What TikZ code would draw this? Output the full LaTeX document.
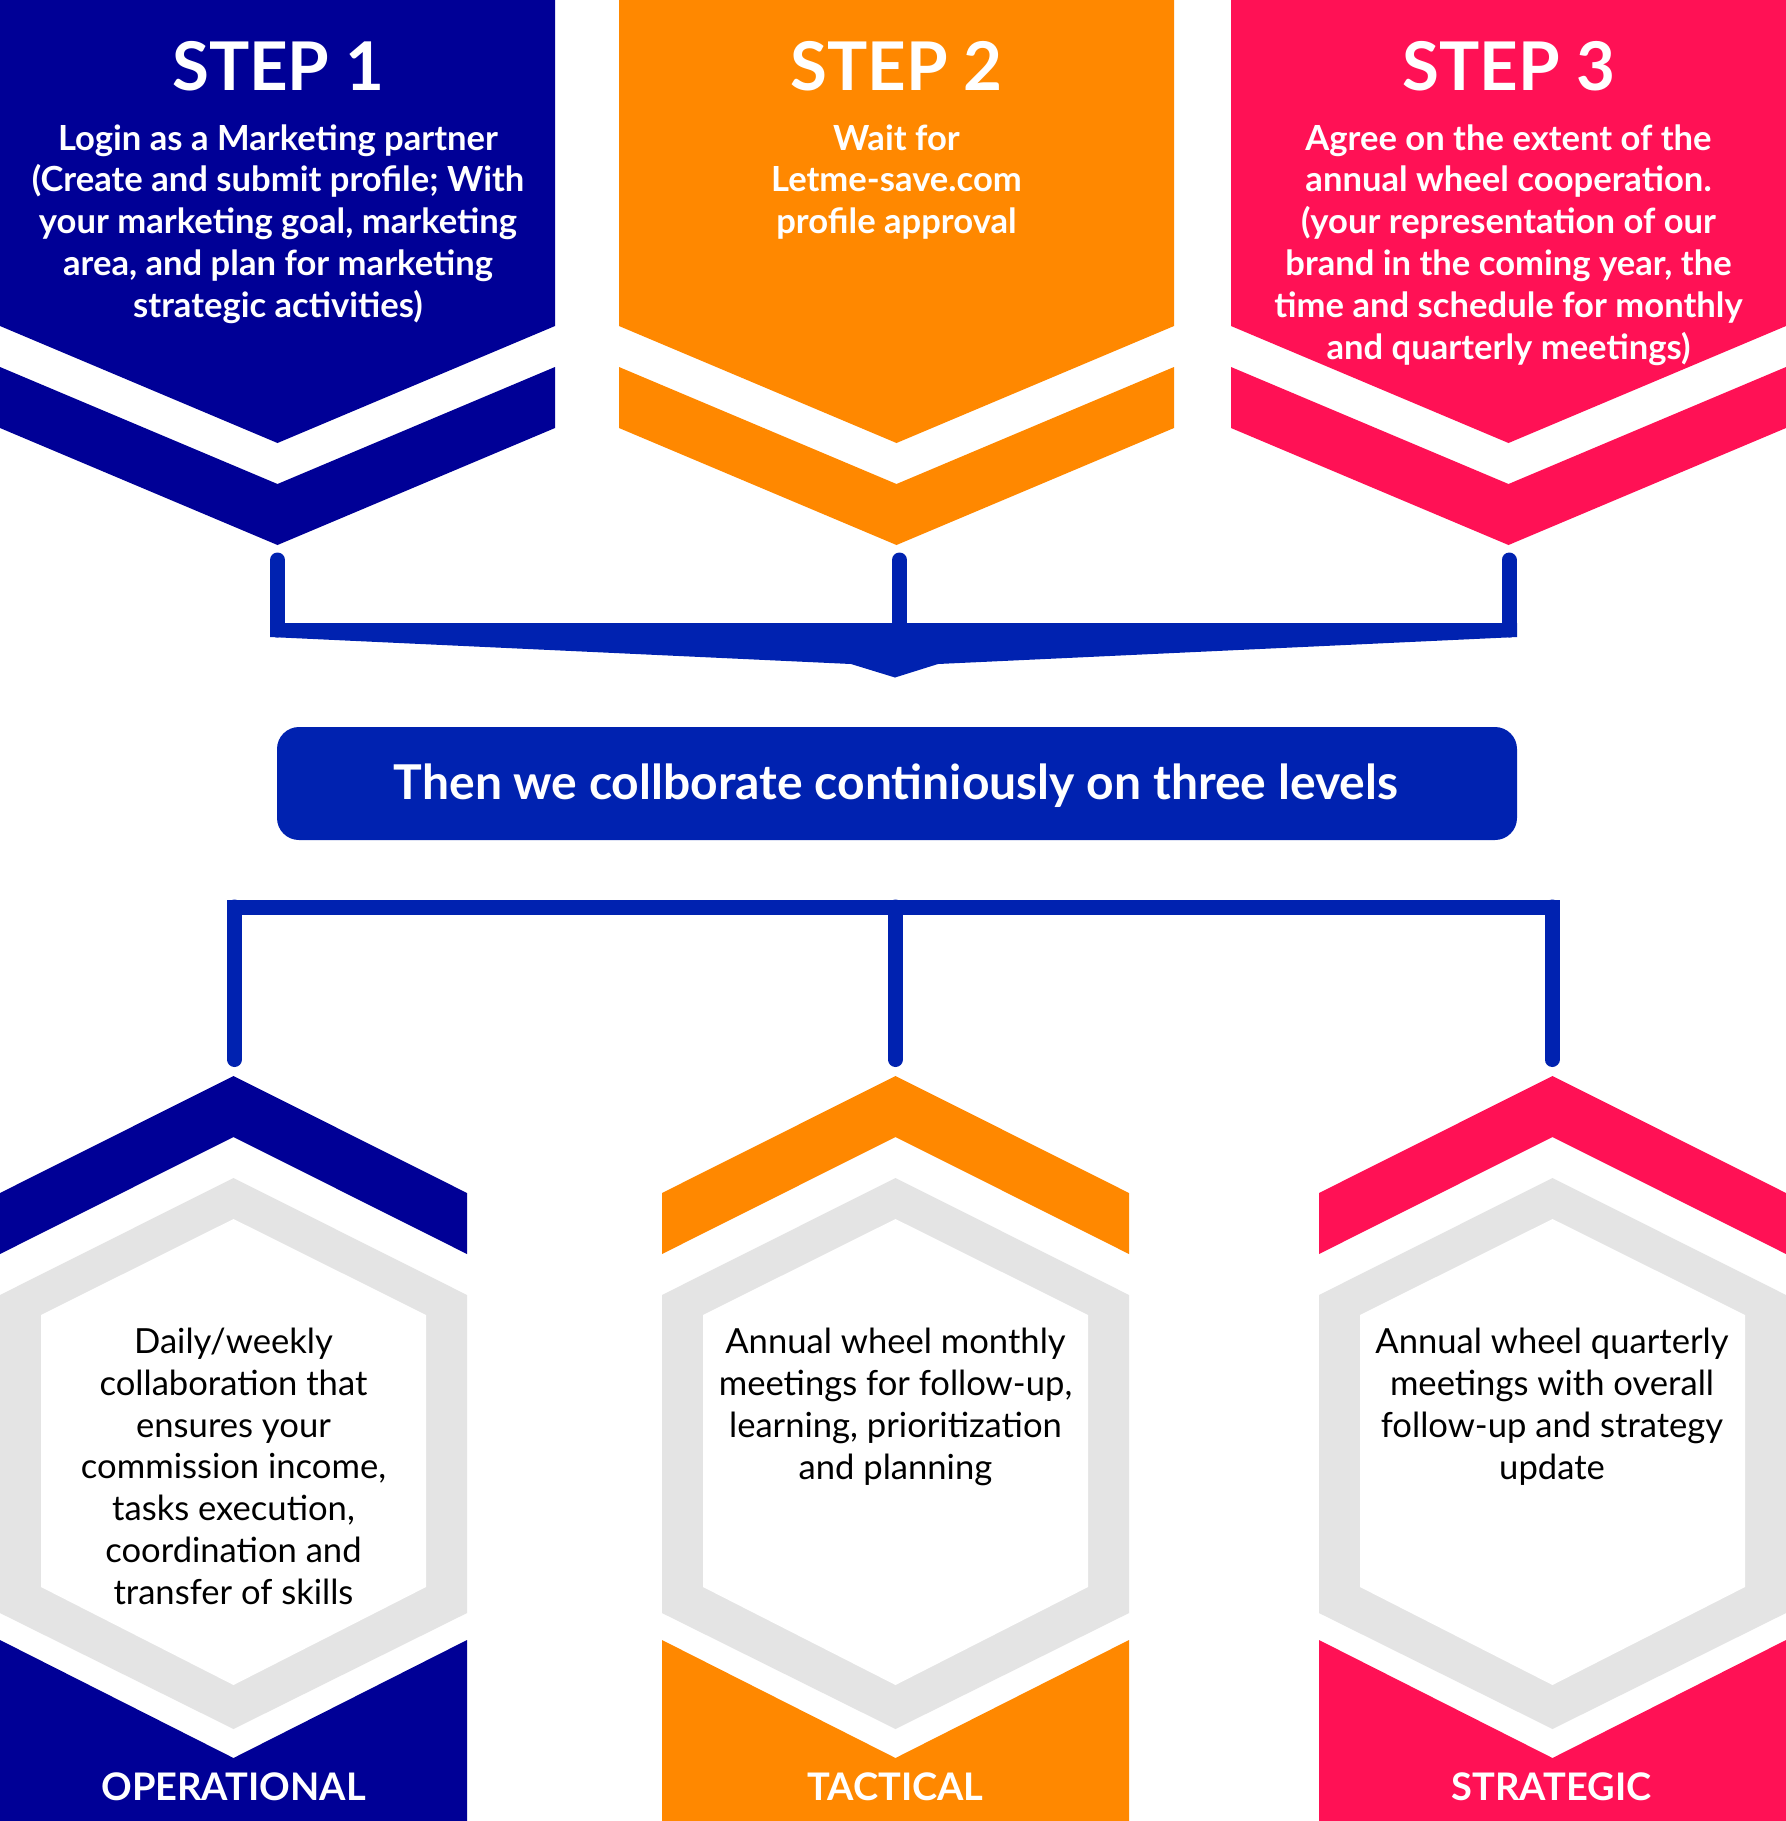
\documentclass[tikz,border=0pt]{standalone}
\usepackage{fontspec}
\setmainfont{Lato}
\definecolor{navy}{RGB}{0,0,150}
\definecolor{orng}{RGB}{255,136,0}
\definecolor{pnk}{RGB}{255,17,85}
\definecolor{cblue}{RGB}{0,34,176}
\definecolor{lgrey}{RGB}{228,228,228}
\begin{document}
\begin{tikzpicture}[x=0.5pt,y=-0.5pt,
  steptitle/.style={text=white,font=\bfseries\fontsize{33.6}{40}\selectfont,anchor=base,inner sep=0pt},
  steptext/.style={text=white,font=\bfseries\fontsize{17.3}{20.9}\selectfont,align=center,anchor=base,inner sep=0pt},
  hextext/.style={text=black,font=\fontsize{17.3}{20.85}\selectfont,align=center,anchor=base,inner sep=0pt},
  lvlabel/.style={text=white,font=\bfseries\fontsize{19}{23}\selectfont,anchor=base,inner sep=0pt},
  bannertext/.style={text=white,font=\bfseries\fontsize{24}{29}\selectfont,anchor=base,inner sep=0pt},
  conn/.style={draw=cblue,line width=7.5pt,line cap=round},
]
\useasboundingbox (0,0) rectangle (1786,1821);
\fill[white] (0,0) rectangle (1786,1821);

% top step shapes
\foreach \c/\col in {277.5/navy, 896.5/orng, 1508.5/pnk} {
  \fill[\col] ({\c-277.5},0) -- ({\c+277.5},0) -- ({\c+277.5},326) -- (\c,443) -- ({\c-277.5},326) -- cycle;
  \fill[\col] ({\c-277.5},367) -- (\c,484) -- ({\c+277.5},367) -- ({\c+277.5},428) -- (\c,545) -- ({\c-277.5},428) -- cycle;
}

\node[steptitle] (t1) at (278.5,90) {STEP 1};
\node[steptitle] (t2) at (896.5,90) {STEP 2};
\node[steptitle] (t3) at (1509,90) {STEP 3};

% anchors sit on the last line's baseline
\node[steptext] (d1) at (278,317.2) {Login as a Marketing partner\\(Create and submit profile; With\\your marketing goal, marketing\\area, and plan for marketing\\strategic activities)};
\node[steptext] (d2) at (896.5,233.6) {Wait for\\Letme-save.com\\profile approval};
\node[steptext] (d3) at (1508.5,359) {Agree on the extent of the\\annual wheel cooperation.\\(your representation of our\\brand in the coming year, the\\time and schedule for monthly\\and quarterly meetings)};

% top connector
\coordinate (a1) at (277.5,560);
\coordinate (a2) at (899.5,560);
\coordinate (a3) at (1509,560);
\coordinate (b1) at (277.5,630);
\coordinate (b2) at (899.5,630);
\coordinate (b3) at (1509,630);
\draw[conn] (a1) -- (b1);
\draw[conn] (a2) -- (b2);
\draw[conn] (a3) -- (b3);
\fill[cblue] (270,623) -- (1517,623) -- (1517,637) -- (938,664) -- (895,677.5) -- (851,664) -- (270,637) -- cycle;

% banner
\node[fill=cblue, rounded corners=11pt, minimum width=620pt, minimum height=56.5pt, inner sep=0pt] (banner) at (897,783.5) {};
\node[bannertext] (bt) at (896,799) {Then we collborate continiously on three levels};

% bottom connector
\fill[cblue] (227,900) rectangle (1560,915);
\coordinate (c1) at (234.5,907);
\coordinate (c2) at (895.5,907);
\coordinate (c3) at (1552,907);
\coordinate (e1) at (234.5,1059.5);
\coordinate (e2) at (895.5,1059.5);
\coordinate (e3) at (1552,1059.5);
\draw[conn] (c1) -- (e1);
\draw[conn] (c2) -- (e2);
\draw[conn] (c3) -- (e3);

% bottom shapes
\foreach \c/\col in {233.5/navy, 895.5/orng, 1552.5/pnk} {
  \fill[\col] ({\c-233.5},1193) -- (\c,1076) -- ({\c+233.5},1193) -- ({\c+233.5},1254) -- (\c,1137) -- ({\c-233.5},1254) -- cycle;
  \fill[lgrey] (\c,1178) -- ({\c+233.5},1295) -- ({\c+233.5},1613) -- (\c,1729) -- ({\c-233.5},1613) -- ({\c-233.5},1295) -- cycle;
  \fill[white] (\c,1219) -- ({\c+192.5},1315) -- ({\c+192.5},1587) -- (\c,1685) -- ({\c-192.5},1587) -- ({\c-192.5},1315) -- cycle;
  \fill[\col] ({\c-233.5},1640) -- (\c,1758) -- ({\c+233.5},1640) -- ({\c+233.5},1821) -- ({\c-233.5},1821) -- cycle;
}

\node[hextext] (h1) at (233.5,1604) {Daily/weekly\\collaboration that\\ensures your\\commission income,\\tasks execution,\\coordination and\\transfer of skills};
\node[hextext] (h2) at (895.5,1479) {Annual wheel monthly\\meetings for follow-up,\\learning, prioritization\\and planning};
\node[hextext] (h3) at (1552,1479) {Annual wheel quarterly\\meetings with overall\\follow-up and strategy\\update};

\node[lvlabel] (l1) at (233.5,1800) {OPERATIONAL};
\node[lvlabel] (l2) at (895.5,1800) {TACTICAL};
\node[lvlabel] (l3) at (1551.5,1800) {STRATEGIC};
\end{tikzpicture}
\end{document}
